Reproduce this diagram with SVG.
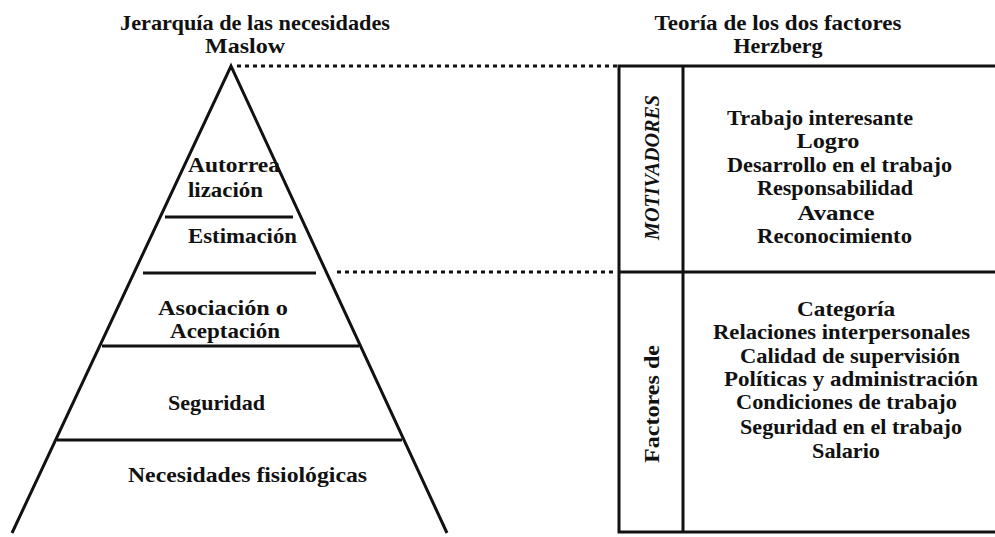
<svg xmlns="http://www.w3.org/2000/svg" width="995" height="537" viewBox="0 0 995 537">
<style>
text{font-family:"Liberation Serif","Times New Roman",serif;font-size:21px;font-weight:bold;fill:#111;text-anchor:middle}
.ln{stroke:#111;stroke-width:3;fill:none}
.dot{stroke:#111;stroke-width:3;stroke-dasharray:4 4;fill:none}
</style>
<rect width="995" height="537" fill="#fff"/>
<g id="titles">
<text x="255" y="30" textLength="270" lengthAdjust="spacingAndGlyphs">Jerarquía de las necesidades</text>
<text x="245" y="53" textLength="80" lengthAdjust="spacingAndGlyphs">Maslow</text>
<text x="778" y="30" textLength="247" lengthAdjust="spacingAndGlyphs">Teoría de los dos factores</text>
<text x="778" y="53" textLength="89" lengthAdjust="spacingAndGlyphs">Herzberg</text>
</g>
<g id="pyramid">
<path class="ln" d="M12,533 L231,66 L447,533"/>
<line class="ln" x1="165" y1="217" x2="293" y2="217"/>
<line class="ln" x1="143" y1="273" x2="316" y2="273"/>
<line class="ln" x1="102" y1="346" x2="359" y2="346"/>
<line class="ln" x1="57" y1="440" x2="402" y2="440"/>
</g>
<g id="level-autorrealizacion"><text x="234" y="172" textLength="92" lengthAdjust="spacingAndGlyphs">Autorrea</text><text x="225.5" y="197" textLength="75" lengthAdjust="spacingAndGlyphs">lización</text></g>
<g id="level-estimacion"><text x="242.5" y="243" textLength="109" lengthAdjust="spacingAndGlyphs">Estimación</text></g>
<g id="level-asociacion"><text x="223" y="315" textLength="130" lengthAdjust="spacingAndGlyphs">Asociación o</text><text x="225" y="338" textLength="110" lengthAdjust="spacingAndGlyphs">Aceptación</text></g>
<g id="level-seguridad"><text x="216.5" y="410" textLength="97" lengthAdjust="spacingAndGlyphs">Seguridad</text></g>
<g id="level-fisiologicas"><text x="247.5" y="482" textLength="239" lengthAdjust="spacingAndGlyphs">Necesidades fisiológicas</text></g>
<g id="connectors">
<line class="dot" x1="237" y1="66" x2="617" y2="66"/>
<line class="dot" x1="337" y1="272" x2="617" y2="272"/>
</g>
<g id="herzberg-table">
<path class="ln" d="M995,66 L619,66 L619,532 L995,532"/>
<line class="ln" x1="683" y1="66" x2="683" y2="532"/>
<line class="ln" x1="619" y1="272" x2="995" y2="272"/>
</g>
<g id="motivadores">
<text x="652" y="167.5" transform="rotate(-90 652 167.5)" dy="7" style="font-style:italic" textLength="145" lengthAdjust="spacingAndGlyphs">MOTIVADORES</text>
<text x="820" y="125" textLength="186" lengthAdjust="spacingAndGlyphs">Trabajo interesante</text>
<text x="828" y="148" textLength="63" lengthAdjust="spacingAndGlyphs">Logro</text>
<text x="839.5" y="172" textLength="225" lengthAdjust="spacingAndGlyphs">Desarrollo en el trabajo</text>
<text x="835" y="195" textLength="156" lengthAdjust="spacingAndGlyphs">Responsabilidad</text>
<text x="836" y="220" textLength="77" lengthAdjust="spacingAndGlyphs">Avance</text>
<text x="834.5" y="243" textLength="155" lengthAdjust="spacingAndGlyphs">Reconocimiento</text>
</g>
<g id="higiene">
<text x="652" y="404" transform="rotate(-90 652 404)" dy="7" textLength="118" lengthAdjust="spacingAndGlyphs">Factores de</text>
<text x="846" y="316" textLength="98" lengthAdjust="spacingAndGlyphs">Categoría</text>
<text x="841.5" y="339" textLength="257" lengthAdjust="spacingAndGlyphs">Relaciones interpersonales</text>
<text x="850" y="363" textLength="220" lengthAdjust="spacingAndGlyphs">Calidad de supervisión</text>
<text x="851" y="386" textLength="254" lengthAdjust="spacingAndGlyphs">Políticas y administración</text>
<text x="846.5" y="409" textLength="221" lengthAdjust="spacingAndGlyphs">Condiciones de trabajo</text>
<text x="851" y="434" textLength="222" lengthAdjust="spacingAndGlyphs">Seguridad en el trabajo</text>
<text x="846" y="458" textLength="68" lengthAdjust="spacingAndGlyphs">Salario</text>
</g>
</svg>
